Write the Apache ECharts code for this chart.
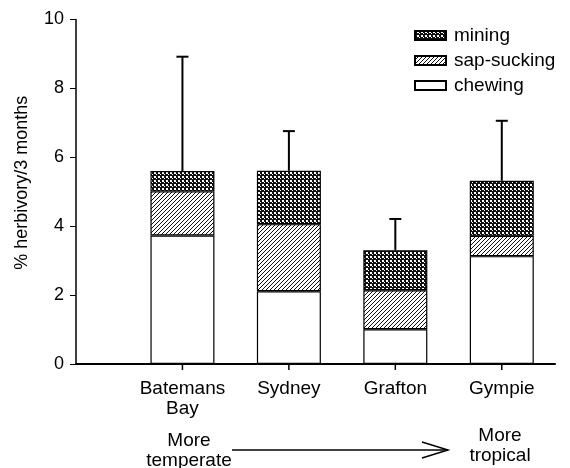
<!DOCTYPE html>
<html>
<head>
<meta charset="utf-8">
<script src="https://cdn.jsdelivr.net/npm/echarts@6/dist/echarts.min.js"></script>
<style>
  html, body { margin: 0; padding: 0; background: #fff; }
  #chart { width: 570px; height: 468px; }
</style>
</head>
<body>
<div id="chart"></div>
<script>
// sites, left (temperate) to right (tropical)
var sites = ['Batemans\nBay', 'Sydney', 'Grafton', 'Gympie'];
// % herbivory per 3 months
var chewing = [3.73, 2.11, 1.01, 3.13];
var sapSucking = [1.28, 1.95, 1.13, 0.59];
var mining = [0.59, 1.55, 1.16, 1.60];
// upper error (added on top of the stack)
var errUp = [3.32, 1.15, 0.91, 1.74];
var yTicks = [0, 2, 4, 6, 8, 10];

var FONT = 'Liberation Sans, Arial, sans-serif';

// the axis runs over half-steps: site i sits on slot 2*(i+1), slots 0..9
var slots = [];
for (var s = 0; s < 10; s++) slots.push('');
sites.forEach(function (name, i) { slots[2 * (i + 1)] = name; });

function toSlots(vals) {
  var out = slots.map(function () { return null; });
  vals.forEach(function (v, i) { out[2 * (i + 1)] = v; });
  return out;
}

// hatch patterns
function crossPattern() {
  var c = document.createElement('canvas');
  c.width = 4; c.height = 4;
  var g = c.getContext('2d');
  g.fillStyle = '#fff';
  g.fillRect(0, 0, 4, 4);
  g.fillStyle = '#111';
  g.fillRect(0, 0, 2, 2);
  g.fillRect(2, 2, 2, 2);
  g.fillRect(1, 0, 1, 4);
  g.fillRect(0, 3, 4, 1);
  return c;
}
function diagPattern() {
  var c = document.createElement('canvas');
  c.width = 4; c.height = 4;
  var g = c.getContext('2d');
  g.fillStyle = '#fff';
  g.fillRect(0, 0, 4, 4);
  g.strokeStyle = '#111';
  g.lineWidth = 1;
  g.beginPath();
  g.moveTo(-1, 5); g.lineTo(5, -1);
  g.moveTo(-1, 1); g.lineTo(1, -1);
  g.moveTo(3, 5); g.lineTo(5, 3);
  g.stroke();
  return c;
}

var errData = sites.map(function (n, i) {
  var total = chewing[i] + sapSucking[i] + mining[i];
  return [2 * (i + 1), total, total + errUp[i]];
});

var chart = echarts.init(document.getElementById('chart'));

var barStyle = function (fill) {
  return { color: fill, borderColor: '#000', borderWidth: 1.2 };
};

var option = {
  animation: false,
  backgroundColor: '#fff',
  grid: { left: 76, right: 15, top: 19.5, bottom: 104, outerBoundsMode: 'none' },
  legend: {
    orient: 'vertical',
    left: 409,
    top: 21,
    itemWidth: 31,
    itemHeight: 9,
    itemGap: 6,
    icon: 'rect',
    data: ['mining', 'sap-sucking', 'chewing'],
    textStyle: { fontFamily: FONT, fontSize: 19, color: '#000', padding: [0, 0, 0, 3] }
  },
  xAxis: {
    type: 'category',
    data: slots,
    boundaryGap: false,
    axisLine: { lineStyle: { color: '#000', width: 2 } },
    axisTick: { show: false },
    axisLabel: {
      interval: 0,
      margin: 15,
      color: '#000',
      fontFamily: FONT,
      fontSize: 19,
      lineHeight: 20
    },
    splitLine: { show: false }
  },
  yAxis: {
    type: 'value',
    min: 0,
    max: 10,
    interval: 2,
    name: '% herbivory/3 months',
    nameLocation: 'middle',
    nameGap: 45,
    nameTextStyle: { fontFamily: FONT, fontSize: 18, color: '#000', padding: [0, 0, 0, 18] },
    axisLine: { show: true, lineStyle: { color: '#000', width: 1.5 } },
    axisTick: { show: true, length: 6, lineStyle: { color: '#000', width: 1 } },
    axisLabel: {
      margin: 12,
      color: '#000',
      fontFamily: FONT,
      fontSize: 18,
      formatter: function (v) { return yTicks.indexOf(v) >= 0 ? String(v) : ''; }
    },
    splitLine: { show: false }
  },
  series: [
    {
      name: 'chewing', type: 'bar', stack: 'herb', barWidth: 64,
      itemStyle: barStyle('#fff'),
      data: toSlots(chewing)
    },
    {
      name: 'sap-sucking', type: 'bar', stack: 'herb', barWidth: 64,
      itemStyle: barStyle({ image: diagPattern(), repeat: 'repeat' }),
      data: toSlots(sapSucking)
    },
    {
      name: 'mining', type: 'bar', stack: 'herb', barWidth: 64,
      itemStyle: barStyle({ image: crossPattern(), repeat: 'repeat' }),
      data: toSlots(mining)
    },
    {
      // upper error bars, plus the category tick under each site
      name: 'error', type: 'custom',
      z: 5,
      clip: false,
      renderItem: function (params, api) {
        var base = api.coord([api.value(0), api.value(1)]);
        var top = api.coord([api.value(0), api.value(2)]);
        var zero = api.coord([api.value(0), 0]);
        var style = { stroke: '#000', lineWidth: 2 };
        return {
          type: 'group',
          children: [
            { type: 'line', shape: { x1: base[0], y1: base[1], x2: top[0], y2: top[1] }, style: style },
            { type: 'line', shape: { x1: top[0] - 6, y1: top[1], x2: top[0] + 6, y2: top[1] }, style: style },
            { type: 'line', shape: { x1: zero[0], y1: zero[1], x2: zero[0], y2: zero[1] + 6 }, style: { stroke: '#000', lineWidth: 1.5 } }
          ]
        };
      },
      encode: { x: 0, y: [1, 2] },
      data: errData
    }
  ],
  graphic: [
    {
      type: 'text', x: 189, y: 431,
      style: { text: 'More\ntemperate', fontFamily: FONT, fontSize: 19, lineHeight: 20, fill: '#000', align: 'center', verticalAlign: 'top' }
    },
    {
      type: 'text', x: 500, y: 426,
      style: { text: 'More\ntropical', fontFamily: FONT, fontSize: 19, lineHeight: 20, fill: '#000', align: 'center', verticalAlign: 'top' }
    },
    {
      type: 'polyline',
      shape: { points: [[232, 450], [448, 450]] },
      style: { stroke: '#000', lineWidth: 1.5 }
    },
    {
      type: 'polyline',
      shape: { points: [[422, 442], [448, 450], [422, 458]] },
      style: { stroke: '#000', lineWidth: 1.5, fill: null }
    }
  ]
};

chart.setOption(option);
</script>
</body>
</html>
